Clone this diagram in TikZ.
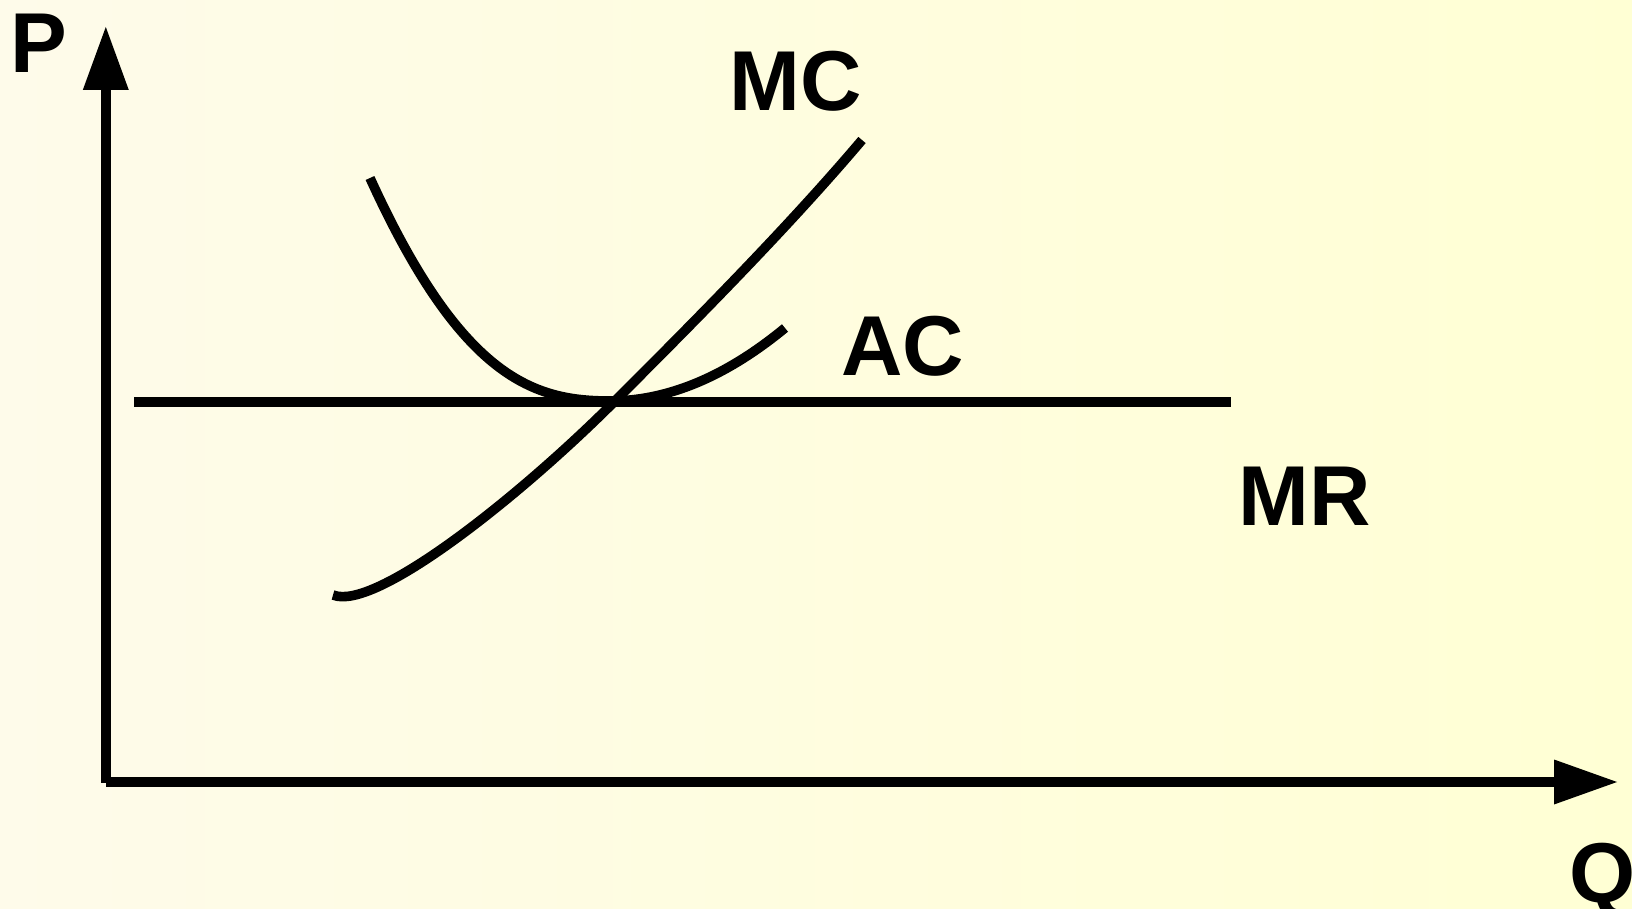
\documentclass[tikz,border=0pt]{standalone}
\usepackage{fontspec}
\setmainfont{Liberation Sans}
\begin{document}
\begin{tikzpicture}[x=1pt,y=-1pt,
  curve/.style={line width=9.6pt,line cap=butt,line join=round},
  axis/.style={line width=9.8pt,line cap=butt},
  tiphead/.style={fill=black,draw=none},
  lab/.style={inner sep=0pt,anchor=base west,font=\bfseries\fontsize{85}{85}\selectfont}]
\shade[left color={rgb,255:red,254;green,251;blue,234},right color={rgb,255:red,255;green,255;blue,212}]
  (0,0) rectangle (1632,909);
\useasboundingbox (0,0) rectangle (1632,909);
% axes
\coordinate (O1) at (105.8,782.7);
\coordinate (Ybase) at (105.8,90);
\coordinate (Ytip) at (105.8,27);
\coordinate (O2) at (106,782);
\coordinate (Xbase) at (1554,782);
\coordinate (Xtip) at (1617,782);
\draw[axis] (O1) -- (Ybase);
\fill[tiphead] ([xshift=-23pt]Ybase) -- (Ytip) -- ([xshift=23pt]Ybase) -- cycle;
\draw[axis] (O2) -- (Xbase);
\fill[tiphead] ([yshift=22.5pt]Xbase) -- (Xtip) -- ([yshift=-22.5pt]Xbase) -- cycle;
% MR line
\coordinate (MRa) at (134,402);
\coordinate (MRb) at (1231,402);
\draw[curve] (MRa) -- (MRb);
% AC curve
\coordinate (ACa) at (370,178);
\coordinate (ACm) at (610,401);
\coordinate (ACb) at (785,328);
\draw[curve] (ACa) .. controls (462,380) and (535,401) .. (ACm)
  .. controls (680,401) and (740,365) .. (ACb);
% MC curve
\coordinate (MCa) at (333,595);
\coordinate (MCx) at (614,402);
\coordinate (MCb) at (862,140);
\draw[curve] (MCa) .. controls (375,612) and (520,496) .. (MCx)
  .. controls (700,316) and (790,225) .. (MCb);
% labels
\node[lab] (P) at (9.8,72.8) {P};
\node[lab] (Q) at (1569,902.5) {Q};
\node[lab] (MC) at (729,110.5) {MC};
\node[lab] (AC) at (841,375) {AC};
\node[lab] (MR) at (1238,525) {MR};
\end{tikzpicture}
\end{document}
